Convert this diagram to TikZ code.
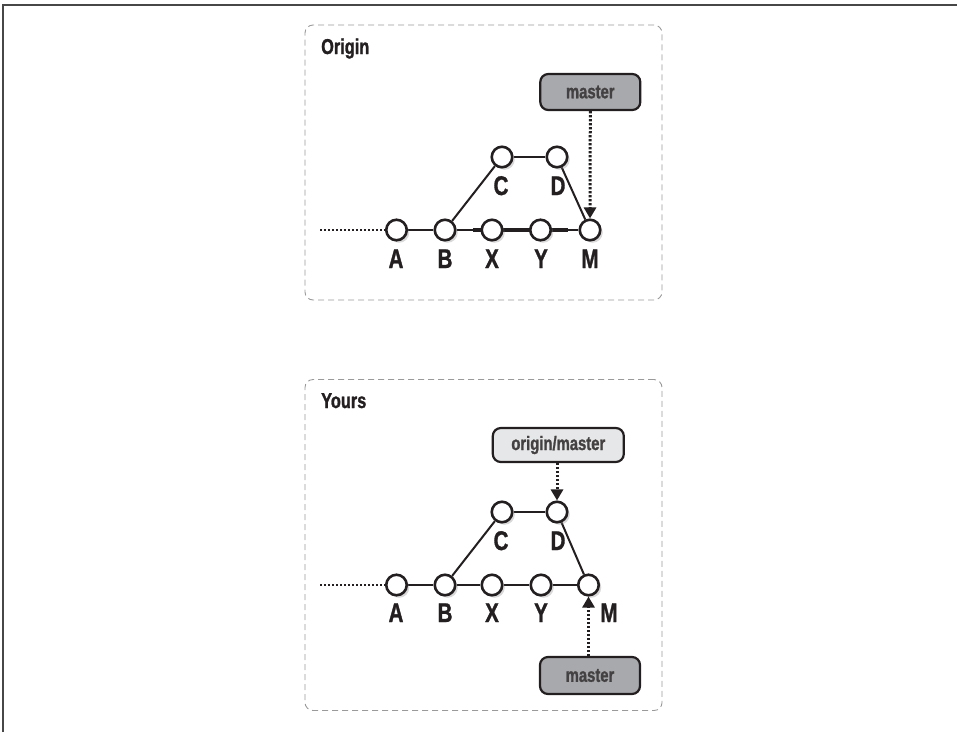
\documentclass[tikz,border=0pt]{standalone}
\usepackage{fontspec}
\newfontfamily\hv{Liberation Sans Bold}[FakeStretch=0.76,FakeBold=1.2]
\usetikzlibrary{arrows.meta,shadows,calc}
\pgfdeclarelayer{bg}
\pgfsetlayers{bg,main}
\definecolor{ink}{HTML}{231F20}
\definecolor{darkfill}{HTML}{A7A9AC}
\definecolor{lightfill}{HTML}{E6E7E8}
\definecolor{frameg}{HTML}{9A9A9A}
\begin{document}
\begin{tikzpicture}[x=1pt,y=-1pt,
  commit/.style={circle,draw=ink,line width=2.6pt,fill=white,minimum size=20.5pt,inner sep=0pt,
    drop shadow={opacity=0.3,shadow xshift=2.5pt,shadow yshift=-2.5pt}},
  lbl/.style={font=\hv\fontsize{27}{27}\selectfont,text=ink,inner sep=0pt,anchor=base},
  title/.style={font=\hv\fontsize{21.5}{21.5}\selectfont,text=ink,inner sep=0pt,anchor=base west},
  refbox/.style={draw=ink,line width=2.2pt,rounded corners=8pt,inner sep=0pt,
    font=\hv\fontsize{19.5}{19.5}\selectfont,text=ink!85},
  container/.style={draw=frameg,line width=0.9pt,dash pattern=on 6pt off 4pt,rounded corners=8pt,inner sep=0pt},
  edge/.style={draw=ink,line width=2pt},
  lead/.style={draw=ink,line width=2.8pt,dash pattern=on 2.2pt off 1.8pt},
  ptr/.style={draw=ink,line width=3pt,dash pattern=on 2.2pt off 1.8pt,-{Triangle[length=11pt,width=12pt]}}
]
\useasboundingbox (0,0) rectangle (957,732);
% outer frame
\coordinate (f1) at (3,732);
\coordinate (f2) at (3,5);
\coordinate (f3) at (957,5);
\draw[line width=1.6pt,black!72] (f1) -- (f2) -- (f3);

% ---------------- Origin ----------------
\node[container,minimum width=357pt,minimum height=275pt] (boxO) at (483.5,162.5) {};
\node[title] (tO) at (321,54) {Origin};

\node[commit] (oA) at (396.5,230) {};
\node[commit] (oB) at (445,230) {};
\node[commit] (oX) at (492,230) {};
\node[commit] (oY) at (540.5,230) {};
\node[commit] (oM) at (590,230) {};
\node[commit] (oC) at (502,157) {};
\node[commit] (oD) at (557,157) {};

\node[lbl] (loA) at (396,268) {A};
\node[lbl] (loB) at (445,268) {B};
\node[lbl] (loX) at (492,268) {X};
\node[lbl] (loY) at (541,268) {Y};
\node[lbl] (loM) at (590,268) {M};
\node[lbl] (loC) at (501,195) {C};
\node[lbl] (loD) at (558,195) {D};

\begin{pgfonlayer}{bg}
\draw[edge] (oA) -- (oB);
\draw[edge] (oB) -- (oX);
\draw[edge] (oX) -- (oY);
\draw[edge] (oY) -- (oM);
\draw[edge] (oB) -- (oC);
\draw[edge] (oC) -- (oD);
\draw[edge] (oD) -- (oM);
\draw[draw=ink,line width=3.6pt] ($(oB)!0.6!(oX)$) -- ($(oY)!0.56!(oM)$);
\end{pgfonlayer}

\coordinate (sO) at (320,230);
\draw[lead] (sO) -- (oA.west);

\node[refbox,fill=darkfill,minimum width=100pt,minimum height=36pt] (mO) at (590.3,92) {master};
\draw[ptr] (mO.south) -- (oM.north);

% ---------------- Yours ----------------
\node[container,minimum width=357pt,minimum height=331pt] (boxY) at (483.5,545) {};
\node[title] (tY) at (321,408) {Yours};

\node[commit] (yA) at (396.5,585) {};
\node[commit] (yB) at (445,585) {};
\node[commit] (yX) at (492,585) {};
\node[commit] (yY) at (541,585) {};
\node[commit] (yM) at (588.5,585) {};
\node[commit] (yC) at (502,512) {};
\node[commit] (yD) at (557,512) {};

\node[lbl] (lyA) at (396,622) {A};
\node[lbl] (lyB) at (445,622) {B};
\node[lbl] (lyX) at (492,622) {X};
\node[lbl] (lyY) at (541,622) {Y};
\node[lbl] (lyM) at (609,622) {M};
\node[lbl] (lyC) at (501,550) {C};
\node[lbl] (lyD) at (558,550) {D};

\begin{pgfonlayer}{bg}
\draw[edge] (yA) -- (yB);
\draw[edge] (yB) -- (yX);
\draw[edge] (yX) -- (yY);
\draw[edge] (yY) -- (yM);
\draw[edge] (yB) -- (yC);
\draw[edge] (yC) -- (yD);
\draw[edge] (yD) -- (yM);
\end{pgfonlayer}

\coordinate (sY) at (320,585);
\draw[lead] (sY) -- (yA.west);

\node[refbox,fill=lightfill,minimum width=131pt,minimum height=34pt] (omY) at (558.3,445) {origin/master};
\draw[ptr] (omY.south -| yD) -- (yD.north);

\node[refbox,fill=darkfill,minimum width=100pt,minimum height=37pt] (mY) at (590,675.5) {master};
\draw[ptr] (mY.north -| yM) -- (yM.south);
\end{tikzpicture}
\end{document}
